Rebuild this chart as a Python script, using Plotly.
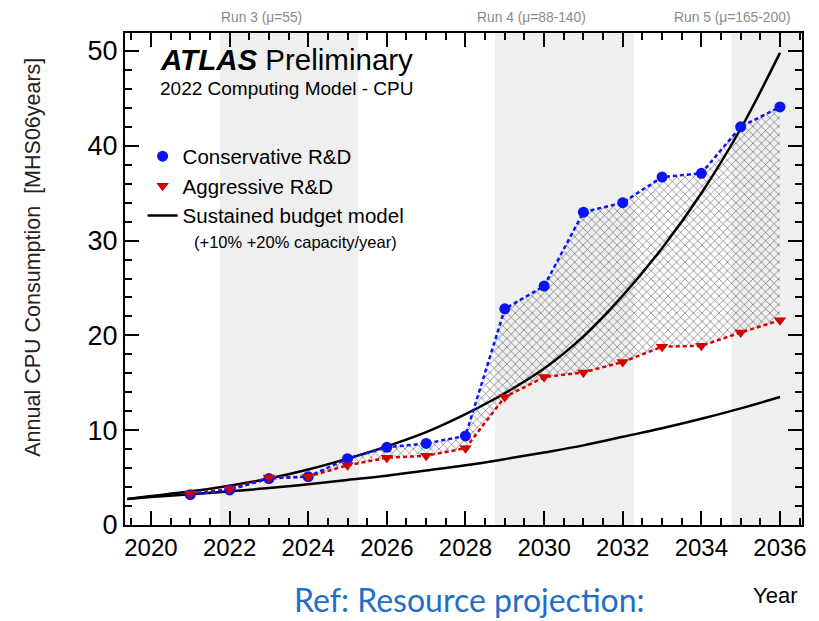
import plotly.graph_objects as go

# Projected annual CPU need per year (MHS06 years)
years = list(range(2021, 2037))
conservative = [3.2, 3.7, 4.9, 5.1, 7.0, 8.2, 8.6, 9.4, 22.8, 25.2, 33.0, 34.0, 36.7, 37.1, 42.0, 44.1]
aggressive = [3.3, 3.8, 5.0, 5.1, 6.3, 7.1, 7.3, 8.1, 13.5, 15.6, 16.1, 17.2, 18.8, 18.9, 20.3, 21.6]

# Flat-budget capacity curves (+10%/year and +20%/year)
budget_years = [2019.4] + list(range(2020, 2037))
budget_plus10 = [2.75, 2.95, 3.25, 3.55, 3.9, 4.3, 4.75, 5.2, 5.75, 6.3, 6.95, 7.65, 8.4, 9.3, 10.2, 11.2, 12.3, 13.5]
budget_plus20 = [2.75, 3.05, 3.55, 4.15, 4.9, 5.85, 7.0, 8.3, 9.8, 11.7, 13.9, 16.5, 19.9, 24.2, 29.2, 35.0, 41.8, 49.8]

# LHC run periods
run_labels = ["Run 3 (\u03bc=55)", "Run 4 (\u03bc=88-140)", "Run 5 (\u03bc=165-200)"]
run_start = [2021.76, 2028.75, 2034.77]
run_end = [2025.28, 2032.29, 2036.56]
run_label_x = [2021.72, 2028.23, 2033.26]

FONT = "Liberation Sans"
BLUE = "#0a14f0"
RED = "#d40000"

fig = go.Figure()

# hatched band between the two R&D scenarios
fig.add_trace(go.Scatter(
    x=years + years[::-1],
    y=conservative + aggressive[::-1],
    fill="toself", mode="lines", line=dict(width=0),
    fillcolor="rgba(0,0,0,0)",
    fillpattern=dict(shape="x", fgcolor="rgba(60,60,60,0.9)", bgcolor="rgba(0,0,0,0)",
                     size=6, solidity=0.18, fillmode="replace"),
    showlegend=False, hoverinfo="skip",
))

# budget model curves
fig.add_trace(go.Scatter(x=budget_years, y=budget_plus20, mode="lines",
                         line=dict(color="black", width=2.5, shape="spline"),
                         showlegend=False))
fig.add_trace(go.Scatter(x=budget_years, y=budget_plus10, mode="lines",
                         line=dict(color="black", width=2.5, shape="spline"),
                         name="Sustained budget model"))

# dashed connecting lines
fig.add_trace(go.Scatter(x=years, y=aggressive, mode="lines",
                         line=dict(color=RED, width=2.5, dash="4px,3px"), showlegend=False))
fig.add_trace(go.Scatter(x=years, y=conservative, mode="lines",
                         line=dict(color=BLUE, width=2.5, dash="4px,3px"), showlegend=False))

# scenario markers
fig.add_trace(go.Scatter(x=years, y=conservative, mode="markers",
                         marker=dict(color=BLUE, size=11, symbol="circle"),
                         name="Conservative R&D"))
fig.add_trace(go.Scatter(x=years, y=aggressive, mode="markers",
                         marker=dict(color=RED, size=11, symbol="triangle-down"),
                         name="Aggressive R&D"))

# legend order: conservative, aggressive, budget
fig.data[5].legendrank = 1
fig.data[6].legendrank = 2
fig.data[2].legendrank = 3

shapes = []
for s, e in zip(run_start, run_end):
    shapes.append(dict(type="rect", xref="x", yref="paper", x0=s, x1=e, y0=0, y1=1,
                       fillcolor="#efefef", line=dict(width=0), layer="below"))

annotations = []
for lab, xl in zip(run_labels, run_label_x):
    annotations.append(dict(text=lab, x=xl, xref="x", y=1.0305, yref="paper",
                            xanchor="left", yanchor="middle", showarrow=False,
                            font=dict(family=FONT, size=13.8, color="#8a8a8a")))

annotations += [
    dict(text="<b><i>ATLAS</i></b> Preliminary", x=0.0484, y=0.947, xref="paper", yref="paper",
         xanchor="left", yanchor="middle", showarrow=False,
         font=dict(family=FONT, size=29.5, color="black")),
    dict(text="2022 Computing Model - CPU", x=0.0484, y=0.888, xref="paper", yref="paper",
         xanchor="left", yanchor="middle", showarrow=False,
         font=dict(family=FONT, size=19, color="black")),
    dict(text="(+10% +20% capacity/year)", x=0.0997, y=0.575, xref="paper", yref="paper",
         xanchor="left", yanchor="middle", showarrow=False,
         font=dict(family=FONT, size=16.5, color="black")),
    dict(text="Annual CPU Consumption  [MHS06years]", x=-0.136, y=0.545, xref="paper", yref="paper",
         xanchor="center", yanchor="middle", textangle=-90, showarrow=False,
         font=dict(family=FONT, size=21.5, color="#222222")),
    dict(text="Year", x=0.960, y=-0.144, xref="paper", yref="paper",
         xanchor="center", yanchor="middle", showarrow=False,
         font=dict(family=FONT, size=22, color="black")),
    dict(text="Ref: Resource projection:", x=0.509, y=-0.1945, xref="paper", yref="paper",
         xanchor="center", yanchor="bottom", showarrow=False,
         font=dict(family="Lato", size=32, color="#1f6ec8")),
]

axis_common = dict(showline=True, linecolor="black", linewidth=2, mirror="ticks",
                   ticks="inside", tickcolor="black", tickwidth=1.5, ticklen=14,
                   showgrid=False, zeroline=False)

fig.update_layout(
    width=819, height=621,
    margin=dict(l=125, r=12, t=33, b=96),
    paper_bgcolor="white", plot_bgcolor="white",
    font=dict(family=FONT, color="black"),
    xaxis=dict(range=[2019.34, 2036.56], tick0=2020, dtick=2,
               tickfont=dict(family=FONT, size=24),
               minor=dict(dtick=0.5, tick0=2020, ticks="inside", ticklen=7,
                          tickcolor="black", tickwidth=1.5),
               **axis_common),
    yaxis=dict(range=[0, 51.9], tick0=0, dtick=10,
               tickfont=dict(family=FONT, size=27),
               minor=dict(dtick=2, tick0=0, ticks="inside", ticklen=7,
                          tickcolor="black", tickwidth=1.5),
               **axis_common),
    legend=dict(x=0.026, y=0.79, xanchor="left", yanchor="top",
                bgcolor="rgba(0,0,0,0)", font=dict(family=FONT, size=20.5),
                tracegroupgap=0),
    shapes=shapes,
    annotations=annotations,
)

fig.write_html("out.html")
